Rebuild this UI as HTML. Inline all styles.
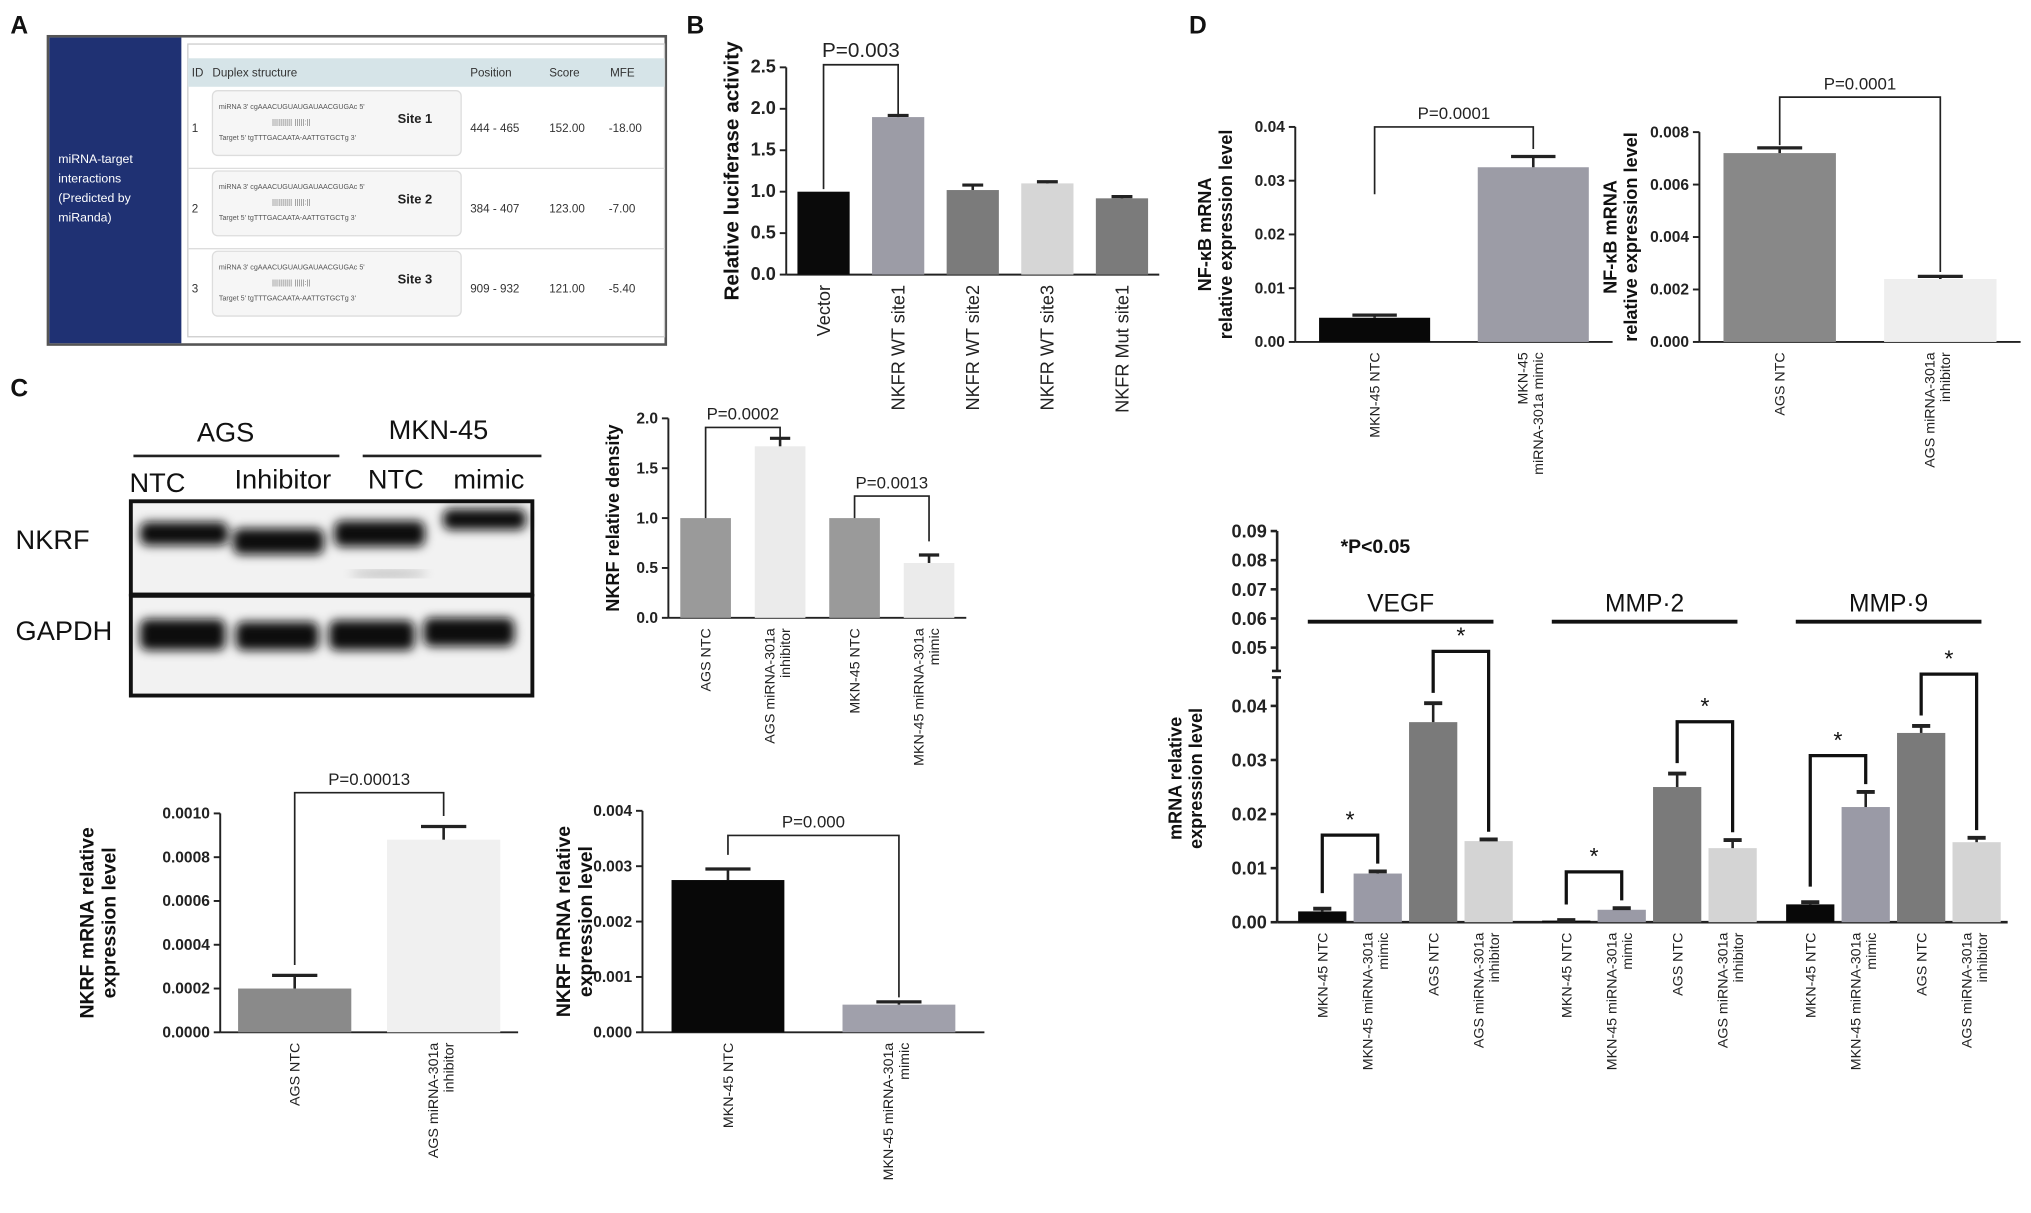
<!DOCTYPE html>
<html><head><meta charset="utf-8"><style>
html,body{margin:0;padding:0;background:#fff;}
svg{display:block;font-family:"Liberation Sans",Arial,sans-serif;}
</style></head><body>
<svg id="fig" width="2031" height="1213" viewBox="0 0 1568 936.5" xmlns="http://www.w3.org/2000/svg">
<defs>
<filter id="blur2"><feGaussianBlur stdDeviation="4"/></filter>
</defs>
<g font-weight="bold" font-size="19" fill="#111">
<text x="8" y="26">A</text>
<text x="530" y="26">B</text>
<text x="8" y="306">C</text>
<text x="918" y="26">D</text>
</g>
<g>
<rect x="37" y="28" width="477" height="238" fill="#fff" stroke="#555" stroke-width="2"/>
<rect x="38" y="29" width="102" height="236" fill="#1f3173"/>
<g fill="#fff" font-size="9.5">
<text x="45" y="126">miRNA-target</text><text x="45" y="141">interactions</text>
<text x="45" y="156">(Predicted by</text><text x="45" y="171">miRanda)</text></g>
<rect x="145" y="34" width="368" height="226" fill="#fff" stroke="#ccc"/>
<rect x="145" y="45" width="368" height="22" fill="#d6e4e8"/>
<g font-size="9" fill="#333">
<text x="148" y="59">ID</text><text x="164" y="59">Duplex structure</text>
<text x="363" y="59">Position</text><text x="424" y="59">Score</text><text x="471" y="59">MFE</text>
</g>
<g id="tableRows" font-size="9" fill="#333"></g>
</g>
<g>
<g font-size="21" fill="#111">
<text x="152" y="341">AGS</text><text x="300" y="339">MKN-45</text>
<text x="100" y="380">NTC</text><text x="181" y="377">Inhibitor</text><text x="284" y="377">NTC</text><text x="350" y="377">mimic</text>
<text x="12" y="424">NKRF</text><text x="12" y="494">GAPDH</text>
</g>
<line x1="103" y1="352" x2="262" y2="352" stroke="#222" stroke-width="2"/>
<line x1="280" y1="352" x2="418" y2="352" stroke="#222" stroke-width="2"/>
<rect x="101" y="387" width="310" height="72" fill="#f2f2f2" stroke="#111" stroke-width="3"/>
<rect x="101" y="460" width="310" height="77" fill="#f2f2f2" stroke="#111" stroke-width="3"/>
<g fill="#111" filter="url(#blur2)">
<rect x="108" y="403" width="68" height="18" rx="6"/>
<rect x="180" y="408" width="70" height="20" rx="6"/>
<rect x="258" y="402" width="70" height="20" rx="6"/>
<rect x="342" y="393" width="64" height="16" rx="6"/>
<rect x="108" y="478" width="66" height="24" rx="6"/>
<rect x="182" y="480" width="64" height="22" rx="6"/>
<rect x="254" y="479" width="66" height="23" rx="6"/>
<rect x="327" y="477" width="70" height="22" rx="6"/>
</g>
<ellipse cx="300" cy="443" rx="30" ry="3" fill="#bbb" filter="url(#blur2)"/>
</g>
<g id="charts"></g>
</svg>
<script>
const tableIds=["1","2","3"];
const tableSites=["Site 1","Site 2","Site 3"];
const tablePositions=["444 - 465","384 - 407","909 - 932"];
const tableScores=["152.00","123.00","121.00"];
const tableMfe=["-18.00","-7.00","-5.40"];

const bCats=["Vector","NKFR WT site1","NKFR WT site2","NKFR WT site3","NKFR Mut site1"];
const bVals=[1.0,1.9,1.02,1.1,0.92];
const bErrs=[0,0.02,0.06,0.02,0.02];
const bTicks=[0,0.5,1.0,1.5,2.0,2.5];

const cdCats=["AGS NTC","AGS miRNA-301a inhibitor","MKN-45 NTC","MKN-45 miRNA-301a mimic"];
const cdVals=[1.0,1.72,1.0,0.55];
const cdErrs=[0,0.08,0,0.08];
const cdTicks=[0,0.5,1.0,1.5,2.0];

const c1Cats=["AGS NTC","AGS miRNA-301a inhibitor"];
const c1Vals=[0.0002,0.00088];
const c1Errs=[0.00006,0.00006];
const c1Ticks=[0,0.0002,0.0004,0.0006,0.0008,0.0010];

const c2Cats=["MKN-45 NTC","MKN-45 miRNA-301a mimic"];
const c2Vals=[0.00275,0.0005];
const c2Errs=[0.0002,0.00005];
const c2Ticks=[0,0.001,0.002,0.003,0.004];

const d1Cats=["MKN-45 NTC","MKN-45 miRNA-301a mimic"];
const d1Vals=[0.0045,0.0325];
const d1Errs=[0.0005,0.002];
const d1Ticks=[0,0.01,0.02,0.03,0.04];

const d2Cats=["AGS NTC","AGS miRNA-301a inhibitor"];
const d2Vals=[0.0072,0.0024];
const d2Errs=[0.0002,0.0001];
const d2Ticks=[0,0.002,0.004,0.006,0.008];

const d3Genes=["VEGF","MMP-2","MMP-9"];
const d3Cats=["MKN-45 NTC","MKN-45 miRNA-301a mimic","AGS NTC","AGS miRNA-301a inhibitor"];
const d3Vegf=[0.002,0.009,0.037,0.015];
const d3Mmp2=[0.0003,0.0023,0.025,0.0137];
const d3Mmp9=[0.0033,0.0213,0.035,0.0148];
const d3VegfErr=[0.0005,0.0004,0.0035,0.0003];
const d3Mmp2Err=[0.0001,0.0003,0.0025,0.0015];
const d3Mmp9Err=[0.0004,0.0028,0.0013,0.0008];
const d3LowTicks=[0,0.01,0.02,0.03,0.04];
const d3HighTicks=[0.05,0.06,0.07,0.08,0.09];

const NS="http://www.w3.org/2000/svg";
const root=document.getElementById('charts');
function mk(tag,attrs,parent,text){const e=document.createElementNS(NS,tag);for(const k in attrs)e.setAttribute(k,attrs[k]);if(text!==undefined)e.textContent=text;(parent||root).appendChild(e);return e;}
function fmt(v,d){return v.toFixed(d);}

const tr=document.getElementById('tableRows');
tableIds.forEach((id,i)=>{
  const y=98+i*62;
  const g=mk('g',{},tr);
  
  
  mk('rect',{x:164,y:y-28,width:192,height:50,rx:4,fill:'#f6f6f6',stroke:'#ddd'},g);
  mk('text',{x:148,y:y+4},g,id);
  mk('text',{x:169,y:y-14,'font-size':'5.5',fill:'#555'},g,"miRNA  3'  cgAAACUGUAUGAUAACGUGAc  5'");
  mk('text',{x:210,y:y-2,'font-size':'6',fill:'#777'},g,"||||||||||  |||||:||");
  mk('text',{x:169,y:y+10,'font-size':'5.5',fill:'#555'},g,"Target 5'  tgTTTGACAATA-AATTGTGCTg  3'");
  mk('text',{x:307,y:y-3,'font-size':'10','font-weight':'bold',fill:'#222'},g,tableSites[i]);
  mk('text',{x:363,y:y+4},g,tablePositions[i]);
  mk('text',{x:424,y:y+4},g,tableScores[i]);
  mk('text',{x:470,y:y+4},g,tableMfe[i]);
  if(i<2) mk('line',{x1:145,y1:y+32,x2:513,y2:y+32,stroke:'#ddd'},g);
});

function barChart(o){
  const g=mk('g',{});
  
  
  const ys=v=>o.y0-(v-o.vmin)/(o.vmax-o.vmin)*(o.y0-o.yTop);
  const step=(o.xEnd-o.x0)/o.cats.length;
  const cx=i=>o.x0+step*(i+0.5);
  const bw=step*o.bwFrac;
  mk('line',{x1:o.x0,y1:o.y0,x2:o.xEnd,y2:o.y0,stroke:'#222','stroke-width':1.5},g);
  mk('line',{x1:o.x0,y1:o.y0,x2:o.x0,y2:ys(o.ticks[o.ticks.length-1]),stroke:'#222','stroke-width':1.5},g);
  o.ticks.forEach(t=>{
    mk('line',{x1:o.x0-5,y1:ys(t),x2:o.x0,y2:ys(t),stroke:'#222','stroke-width':1.5},g);
    const tx=mk('text',{x:o.x0-8,y:ys(t)+4,'text-anchor':'end','font-size':o.tickFs||12,'font-weight':'bold',fill:'#222'},g,fmt(t,o.dec));
    
    
  });
  o.vals.forEach((v,i)=>{
    const b=mk('rect',{x:cx(i)-bw/2,y:ys(v),width:bw,height:o.y0-ys(v),fill:o.colors[i]},g);
    
    
    if(o.errs[i]>0){
      mk('line',{x1:cx(i),y1:ys(v),x2:cx(i),y2:ys(v+o.errs[i]),stroke:'#222','stroke-width':2},g);
      mk('line',{x1:cx(i)-bw*0.2,y1:ys(v+o.errs[i]),x2:cx(i)+bw*0.2,y2:ys(v+o.errs[i]),stroke:'#222','stroke-width':2.5},g);
    }
    const lines=o.labelLines?o.labelLines[i]:[o.cats[i]];
    const t=mk('text',{transform:`translate(${cx(i)+(o.labFs||11)*0.35},${o.y0+8}) rotate(-90)`,'text-anchor':'end','font-size':o.labFs||11,fill:'#222'},g);
    
    
    lines.forEach((ln,k)=>{mk('tspan',{x:0,dy:k?(o.labFs||11)+1:0},t,ln);});
    if(lines.length>1){t.setAttribute('transform',`translate(${cx(i)-((o.labFs||11)*0.4)},${o.y0+8}) rotate(-90)`);}
  });
  const yl=mk('text',{transform:`translate(${o.ylx},${(o.y0+o.yTop)/2}) rotate(-90)`,'text-anchor':'middle','font-size':o.ylFs||15,'font-weight':'bold',fill:'#111'},g);
  
  
  o.yl.forEach((ln,k)=>mk('tspan',{x:0,dy:k?(o.ylFs||15)+2:0},yl,ln));
  (o.brackets||[]).forEach(br=>{
    const a=cx(br.a),b=cx(br.b),y=br.y;
    mk('path',{d:`M${a} ${br.ya} V${y} H${b} V${br.yb}`,fill:'none',stroke:'#222','stroke-width':br.w||1.3},g);
    const t=mk('text',{x:(a+b)/2,y:y-6,'text-anchor':'middle','font-size':br.fs||13,fill:'#222'},g,br.t);
    
    
  });
  return {g,ys,cx};
}

barChart({name:'luciferase-chart',x0:607,xEnd:895,y0:212,yTop:52,vmin:0,vmax:2.5,ticks:bTicks,dec:1,cats:bCats,vals:bVals,errs:bErrs,
  colors:['#0a0a0a','#9c9ca6','#7b7b7b','#d6d6d6','#7b7b7b'],bwFrac:0.7,labFs:14,ylx:570,yl:['Relative luciferase activity'],ylFs:16,tickFs:14,
  brackets:[{a:0,b:1,y:50,ya:146,yb:88,t:'P=0.003',fs:16}]});

barChart({name:'nkrf-density-chart',x0:516,xEnd:746,y0:477,yTop:323,vmin:0,vmax:2.0,ticks:cdTicks,dec:1,cats:cdCats,vals:cdVals,errs:cdErrs,
  colors:['#9a9a9a','#ebebeb','#9a9a9a','#ebebeb'],bwFrac:0.68,labFs:11,ylx:478,yl:['NKRF relative density'],ylFs:14,
  labelLines:[['AGS NTC'],['AGS miRNA-301a','inhibitor'],['MKN-45 NTC'],['MKN-45 miRNA-301a','mimic']],
  brackets:[{a:0,b:1,y:330,ya:400,yb:340,t:'P=0.0002'},{a:2,b:3,y:383,ya:400,yb:418,t:'P=0.0013'}]});

barChart({name:'nkrf-mrna-ags-chart',x0:170,xEnd:400,y0:797,yTop:628,vmin:0,vmax:0.0010,ticks:c1Ticks,dec:4,cats:c1Cats,vals:c1Vals,errs:c1Errs,
  colors:['#8a8a8a','#f0f0f0'],bwFrac:0.76,labFs:11,ylx:72,yl:['NKRF mRNA relative','expression level'],ylFs:15,
  labelLines:[['AGS NTC'],['AGS miRNA-301a','inhibitor']],
  brackets:[{a:0,b:1,y:612,ya:745,yb:630,t:'P=0.00013'}]});

barChart({name:'nkrf-mrna-mkn45-chart',x0:496,xEnd:760,y0:797,yTop:626,vmin:0,vmax:0.004,ticks:c2Ticks,dec:3,cats:c2Cats,vals:c2Vals,errs:c2Errs,
  colors:['#080808','#a0a0ab'],bwFrac:0.66,labFs:11,ylx:440,yl:['NKRF mRNA relative','expression level'],ylFs:15,
  labelLines:[['MKN-45 NTC'],['MKN-45 miRNA-301a','mimic']],
  brackets:[{a:0,b:1,y:645,ya:660,yb:770,t:'P=0.000'}]});

barChart({name:'nfkb-mkn45-chart',x0:1000,xEnd:1245,y0:264,yTop:98,vmin:0,vmax:0.04,ticks:d1Ticks,dec:2,cats:d1Cats,vals:d1Vals,errs:d1Errs,
  colors:['#080808','#9c9ca6'],bwFrac:0.7,labFs:11,ylx:935,yl:['NF-κB mRNA','relative expression level'],ylFs:14,
  labelLines:[['MKN-45 NTC'],['MKN-45','miRNA-301a mimic']],
  brackets:[{a:0,b:1,y:98,ya:150,yb:115,t:'P=0.0001'}]});

barChart({name:'nfkb-ags-chart',x0:1312,xEnd:1560,y0:264,yTop:102,vmin:0,vmax:0.008,ticks:d2Ticks,dec:3,cats:d2Cats,vals:d2Vals,errs:d2Errs,
  colors:['#888888','#eeeeee'],bwFrac:0.7,labFs:11,ylx:1248,yl:['NF-κB mRNA','relative expression level'],ylFs:14,
  labelLines:[['AGS NTC'],['AGS miRNA-301a','inhibitor']],
  brackets:[{a:0,b:1,y:75,ya:112,yb:210,t:'P=0.0001'}]});

(function(){
  const g=mk('g',{});
  
  
  const x0=986,xEnd=1550,y0=712,yLowTop=545,yHigh0=500,yHighTop=410;
  const ysLow=v=>y0-v/0.04*(y0-yLowTop);
  const ysHigh=v=>yHigh0-(v-0.05)/0.04*(yHigh0-yHighTop);
  const step=(xEnd-x0-16)/(d3Genes.length*4+2*0.4);
  const cx=(gi,i)=>x0+22+step*(gi*4.4+i+0.5)-step*0.5+step*0.3;
  const bw=step*0.87;
  const colors=['#080808','#9a9aa6','#7a7a7a','#d4d4d4'];
  mk('line',{x1:x0,y1:y0,x2:xEnd,y2:y0,stroke:'#222','stroke-width':2},g);
  mk('line',{x1:x0,y1:y0,x2:x0,y2:523,stroke:'#222','stroke-width':2},g);
  mk('line',{x1:x0,y1:518,x2:x0,y2:ysHigh(0.09),stroke:'#222','stroke-width':2},g);
  mk('line',{x1:x0-4,y1:523,x2:x0+3,y2:523,stroke:'#222','stroke-width':2},g);
  mk('line',{x1:x0-4,y1:518,x2:x0+3,y2:518,stroke:'#222','stroke-width':2},g);
  d3LowTicks.forEach(t=>{mk('line',{x1:x0-5,y1:ysLow(t),x2:x0,y2:ysLow(t),stroke:'#222','stroke-width':2},g);
    const tx=mk('text',{x:x0-8,y:ysLow(t)+5,'text-anchor':'end','font-size':14,'font-weight':'bold',fill:'#222'},g,t.toFixed(2));
    
    });
  d3HighTicks.forEach(t=>{mk('line',{x1:x0-5,y1:ysHigh(t),x2:x0,y2:ysHigh(t),stroke:'#222','stroke-width':2},g);
    const tx=mk('text',{x:x0-8,y:ysHigh(t)+5,'text-anchor':'end','font-size':14,'font-weight':'bold',fill:'#222'},g,t.toFixed(2));
    
    });
  const yl=mk('text',{transform:`translate(912,${(y0+yHighTop)/2+40}) rotate(-90)`,'text-anchor':'middle','font-size':14,'font-weight':'bold',fill:'#111'},g);
  
  
  mk('tspan',{x:0,dy:0},yl,'mRNA relative');mk('tspan',{x:0,dy:16},yl,'expression level');
  const sig=mk('text',{x:1035,y:427,'font-size':15,'font-weight':'bold',fill:'#111'},g,'*P<0.05');
  
  
  const series=[d3Vegf,d3Mmp2,d3Mmp9], errs=[d3VegfErr,d3Mmp2Err,d3Mmp9Err];
  d3Genes.forEach((gene,gi)=>{
    const a=cx(gi,0)-bw*0.3,b=cx(gi,3)+bw*0.1;
    mk('line',{x1:a,y1:480,x2:b,y2:480,stroke:'#111','stroke-width':3},g);
    const gt=mk('text',{x:(a+b)/2,y:472,'text-anchor':'middle','font-size':19,fill:'#111'},g,gene.replace('-','·'));
    
    
    series[gi].forEach((v,i)=>{
      const r=mk('rect',{x:cx(gi,i)-bw/2,y:ysLow(v),width:bw,height:y0-ysLow(v),fill:colors[i]},g);
      
      
      const e=errs[gi][i];
      mk('line',{x1:cx(gi,i),y1:ysLow(v),x2:cx(gi,i),y2:ysLow(v+e),stroke:'#222','stroke-width':2},g);
      mk('line',{x1:cx(gi,i)-7,y1:ysLow(v+e),x2:cx(gi,i)+7,y2:ysLow(v+e),stroke:'#222','stroke-width':3},g);
      const lines=(i%2)?[d3Cats[i].replace(/ (mimic|inhibitor)$/,''),d3Cats[i].match(/(mimic|inhibitor)$/)[0]]:[d3Cats[i]];
      const t=mk('text',{transform:`translate(${cx(gi,i)+(lines.length>1?-4:4)},${y0+8}) rotate(-90)`,'text-anchor':'end','font-size':11,fill:'#222'},g);
      
      
      lines.forEach((ln,k)=>mk('tspan',{x:0,dy:k?12:0},t,ln));
    });
    [[0,1],[2,3]].forEach(([p,q])=>{
      const top=Math.max(series[gi][p]+errs[gi][p],series[gi][q]+errs[gi][q]);
      const yb=ysLow(top)-28-(p===2?12:0);
      const a1=cx(gi,p),b1=cx(gi,q);
      mk('path',{d:`M${a1} ${ysLow(series[gi][p]+errs[gi][p])-(p===0?12:8)} V${yb} H${b1} V${ysLow(series[gi][q]+errs[gi][q])-6}`,fill:'none',stroke:'#111','stroke-width':2.5},g);
      const st=mk('text',{x:(a1+b1)/2,y:yb-6,'text-anchor':'middle','font-size':18,fill:'#111'},g,'*');
      
      
    });
  });
})();
</script>
</body></html>
